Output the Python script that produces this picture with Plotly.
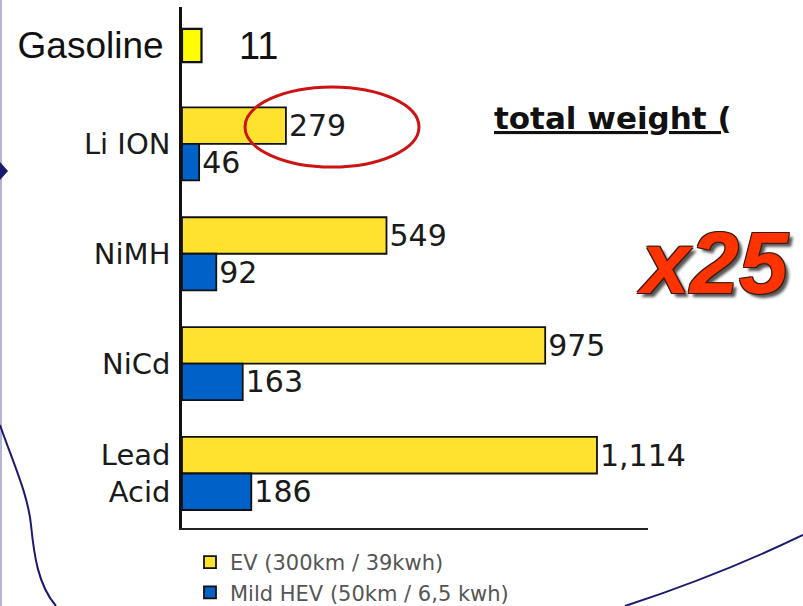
import plotly.graph_objects as go

# ---- data ----
categories = ["Li ION", "NiMH", "NiCd", "Lead Acid"]
ev_values = [279, 549, 975, 1114]          # EV (300km / 39kwh)
hev_values = [46, 92, 163, 186]            # Mild HEV (50km / 6,5 kwh)
gas_category = ["Gasoline"]
gas_values = [11]
series_names = ["EV (300km / 39kwh)", "Mild HEV (50km / 6,5 kwh)"]
tick_labels = ["Li ION", "NiMH", "NiCd", "Lead<br>Acid"]

W, H = 803, 606
def px(x):
    return x / W
def py(y):
    return 1 - y / H

YELLOW = "#FFE22E"
BLUE = "#0061C8"
VAL_FONT = dict(family="DejaVu Sans, Verdana, sans-serif", size=30, color="#1a1a1a")
ARIAL = "Liberation Sans, Arial, sans-serif"

fig = go.Figure()

fig.add_trace(go.Bar(
    y=categories, x=ev_values, orientation="h", name=series_names[0],
    marker=dict(color=YELLOW, line=dict(color="#111", width=1.8)),
    text=ev_values, texttemplate="%{x:,}", textposition="outside",
    textfont=VAL_FONT, cliponaxis=False, xaxis="x", yaxis="y",
))
fig.add_trace(go.Bar(
    y=categories, x=hev_values, orientation="h", name=series_names[1],
    marker=dict(color=BLUE, line=dict(color="#111", width=1.8)),
    text=hev_values, texttemplate="%{x:,}", textposition="outside",
    textfont=VAL_FONT, cliponaxis=False, xaxis="x", yaxis="y",
))
fig.add_trace(go.Bar(
    y=gas_category, x=gas_values, orientation="h", showlegend=False,
    marker=dict(color="#FFFF00", line=dict(color="#111", width=2.2)),
    width=0.39, xaxis="x2", yaxis="y2",
))

# value label for gasoline (placed further right like the original)
fig.add_annotation(
    x=gas_values[0], y=gas_category[0], xref="x2", yref="y2",
    text=str(gas_values[0]), showarrow=False, xanchor="left", xshift=36,
    font=dict(family=ARIAL, size=38, color="#111"),
)

xdom = [px(182), px(648)]
fig.update_layout(
    width=W, height=H,
    margin=dict(l=0, r=0, t=0, b=0, autoexpand=False),
    paper_bgcolor="white", plot_bgcolor="white",
    barmode="group", bargap=0.335, bargroupgap=0,
    showlegend=True,
    legend=dict(
        x=px(190), y=py(542), xanchor="left", yanchor="top",
        font=dict(family="DejaVu Sans, Verdana, sans-serif", size=21, color="#555"),
        bgcolor="rgba(0,0,0,0)", itemwidth=30, tracegroupgap=0,
    ),
    xaxis=dict(domain=xdom, range=[0, 1251], showgrid=False, zeroline=False,
               showticklabels=False, ticks="", showline=True, linecolor="#222",
               linewidth=2, anchor="y", automargin=False),
    yaxis=dict(domain=[py(528.4), py(89)], type="category",
               categoryorder="array", categoryarray=categories,
               range=[3.5, -0.5], showgrid=False, zeroline=False,
               tickvals=categories, ticktext=tick_labels,
               tickfont=dict(family="DejaVu Sans, Verdana, sans-serif", size=29, color="#1a1a1a"),
               ticks="", ticklabelstandoff=3, automargin=False,
               showline=True, linecolor="#111", linewidth=2.5, anchor="x"),
    xaxis2=dict(domain=xdom, range=[0, 263], showgrid=False, zeroline=False,
                showticklabels=False, ticks="", showline=False, anchor="y2",
                automargin=False),
    yaxis2=dict(domain=[py(92), py(7)], type="category", range=[-0.547, 0.453],
                showgrid=False, zeroline=False, ticks="",
                tickfont=dict(family=ARIAL, size=37, color="#111"),
                ticklabelstandoff=8, automargin=False,
                showline=True, linecolor="#111", linewidth=3, anchor="x2"),
)

# red ellipse highlight
fig.add_shape(type="circle", xref="paper", yref="paper",
              x0=px(245), x1=px(419), y0=py(167), y1=py(87),
              line=dict(color="#CC1414", width=3))

# title text
fig.add_annotation(
    x=px(492), y=py(118), xref="paper", yref="paper", xanchor="left", yanchor="middle",
    text="total weight (", showarrow=False,
    font=dict(family="DejaVu Sans, Verdana, sans-serif", size=31, color="#111",
              weight="bold", lineposition="under"),
)

# x25
fig.add_annotation(
    x=px(713), y=py(262), xref="paper", yref="paper", xanchor="center", yanchor="middle",
    text="x25", showarrow=False,
    font=dict(family=ARIAL, size=88, color="#FF3300", weight="bold", style="italic",
              shadow="-1px -1px 0 #3a1a10, 1px -1px 0 #3a1a10, -1px 1px 0 #3a1a10, 1px 1px 0 #3a1a10, 4px 4px 3px #555"),
)

# decorative slide elements
fig.add_shape(type="line", xref="paper", yref="paper",
              x0=px(1), x1=px(1), y0=0, y1=1, line=dict(color="#B4B4D4", width=2))
fig.add_shape(type="path", xref="paper", yref="paper",
              path=f"M {px(0)},{py(162)} L {px(8)},{py(171)} L {px(0)},{py(180)} Z",
              fillcolor="#1A1A6E", line=dict(width=0))
fig.add_shape(type="path", xref="paper", yref="paper",
              path=(f"M {px(0)},{py(425)} C {px(14)},{py(465)} {px(28)},{py(495)} {px(31)},{py(525)} "
                    f"S {px(38)},{py(585)} {px(56)},{py(606)}"),
              line=dict(color="#1A1A6E", width=2))
fig.add_shape(type="path", xref="paper", yref="paper",
              path=f"M {px(625)},{py(606)} Q {px(720)},{py(575)} {px(803)},{py(535)}",
              line=dict(color="#1A1A6E", width=2))

fig.write_html(
    "out.html",
    config={"displayModeBar": False},
    post_script="document.body.style.margin='0';document.body.style.overflow='hidden';",
)
